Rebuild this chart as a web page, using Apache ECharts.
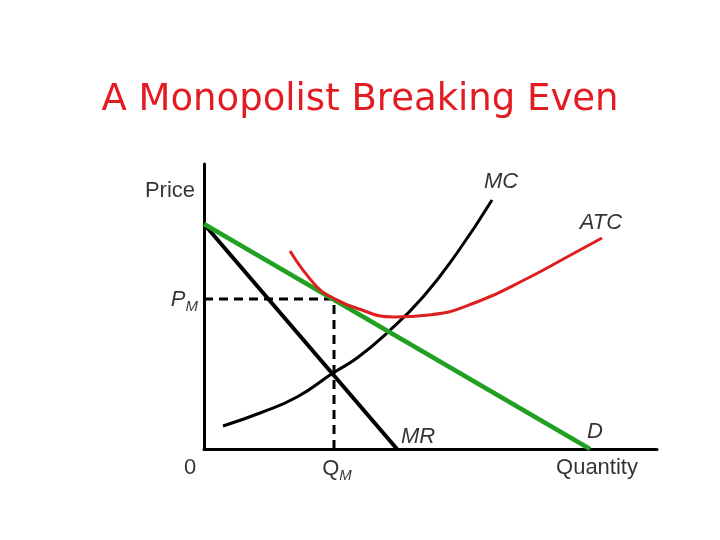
<!DOCTYPE html>
<html>
<head>
    <meta charset="UTF-8">
    <title>A Monopolist Breaking Even</title>
    <style>
        html, body { margin: 0; padding: 0; background: #fff; }
        #chart { width: 720px; height: 540px; }
    </style>
</head>
<body>
    <div id="chart"></div>
    <script src="https://cdn.jsdelivr.net/npm/echarts@6/dist/echarts.min.js"></script>
    <script>
        // curves (quantity, price), arbitrary units
        const demand = [[0, 225], [386, 0]];
        const marginalRevenue = [[0, 225], [193, 0]];
        const marginalCost = [[19, 23], [56, 36], [93, 52], [129, 76], [153, 91], [183, 116],
            [219, 152], [253, 196], [288, 249]];
        const averageTotalCost = [[86, 198], [113, 162], [129, 151], [152, 141], [190, 132], [225, 134],
            [273, 147], [326, 172], [363, 192], [398, 211]];
        const monopolyPoint = [130, 150];   // QM, PM
        const xMax = 453, yMax = 285;

        // text labels, anchored in data coordinates
        const labels = [
            { text: 'Price', at: [-34, 258], align: 'center' },
            { text: '{i|MC}', at: [297, 267], align: 'center' },
            { text: '{i|ATC}', at: [397, 226], align: 'center' },
            { text: '{i|P}{sub|M}', at: [-6, 149], align: 'right' },
            { text: '0', at: [-14, -19], align: 'center' },
            { text: 'Q{sub|M}', at: [133, -20], align: 'center' },
            { text: '{i|MR}', at: [214, 12], align: 'center' },
            { text: '{i|D}', at: [391, 17], align: 'center' },
            { text: 'Quantity', at: [393, -19], align: 'center' }
        ];

        const chart = echarts.init(document.getElementById('chart'));
        const font = '"Liberation Sans", Arial, sans-serif';

        function line(data, color, width, extra) {
            return Object.assign({
                type: 'line',
                data: data,
                symbol: 'none',
                silent: true,
                lineStyle: { color: color, width: width },
                animation: false
            }, extra || {});
        }

        const dashed = { color: '#000', width: 3, type: [9, 6] };

        chart.setOption({
            backgroundColor: '#fff',
            title: {
                text: 'A Monopolist Breaking Even',
                left: 'center',
                top: 77,
                textStyle: {
                    color: '#e31b23',
                    fontFamily: '"Comic Sans MS", "DejaVu Sans", sans-serif',
                    fontWeight: 'normal',
                    fontSize: 37
                }
            },
            grid: { left: 204, top: 164, width: 453, height: 285 },
            xAxis: {
                type: 'value', min: 0, max: xMax,
                axisLine: { lineStyle: { color: '#000', width: 3 } },
                axisTick: { show: false }, axisLabel: { show: false }, splitLine: { show: false }
            },
            yAxis: {
                type: 'value', min: 0, max: yMax,
                axisLine: { show: true, lineStyle: { color: '#000', width: 3 } },
                axisTick: { show: false }, axisLabel: { show: false }, splitLine: { show: false }
            },
            series: [
                line([[0, monopolyPoint[1]], monopolyPoint], '#000', 3, { lineStyle: dashed }),
                line([[monopolyPoint[0], 0], monopolyPoint], '#000', 3, { lineStyle: dashed }),
                line(marginalCost, '#000', 3, { smooth: 0.5 }),
                line(marginalRevenue, '#000', 4),
                line(demand, '#22a022', 4.5),
                line(averageTotalCost, '#dd1f1f', 3, { smooth: 0.5 }),
                {
                    type: 'scatter',
                    silent: true,
                    clip: false,
                    symbolSize: 0,
                    animation: false,
                    data: labels.map(function (l) {
                        return {
                            value: l.at,
                            label: {
                                show: true,
                                position: 'inside',
                                align: l.align,
                                verticalAlign: 'middle',
                                formatter: l.text,
                                color: '#000',
                                fontFamily: font,
                                fontSize: 22,
                                rich: {
                                    i: { fontStyle: 'italic', fontSize: 22, fontFamily: font, color: '#000' },
                                    sub: { fontStyle: 'italic', fontSize: 15, fontFamily: font, color: '#000', padding: [14, 0, 0, 0] }
                                }
                            }
                        };
                    })
                }
            ]
        });
    </script>
</body>
</html>
